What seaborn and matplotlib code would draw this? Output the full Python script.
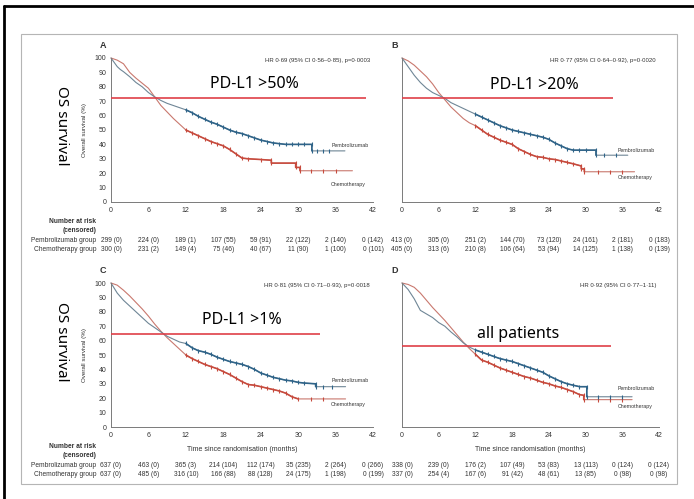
import matplotlib
matplotlib.use("Agg")
import matplotlib.pyplot as plt
import matplotlib.transforms as mtransforms
from matplotlib.lines import Line2D
from matplotlib.patches import Rectangle
import seaborn as sns

# ── Data ───────────────────────────────────────────────────────────
months = [0, 6, 12, 18, 24, 30, 36, 42]
y_ticks = [0, 10, 20, 30, 40, 50, 60, 70, 80, 90, 100]

# A: PD-L1 >50%  (repeated times = vertical KM drops)
a_pem_t = [0, 0.5, 1, 1.5, 2, 3, 4, 5, 6, 7, 8, 9, 10, 11, 12, 13, 14, 15, 16, 17, 18, 19, 20,
           21, 22, 23, 24, 25, 26, 27, 28, 29, 30, 31, 32.2, 32.2, 33, 34, 35, 37.5]
a_pem_s = [100, 97, 94, 92, 90.5, 87, 83, 80, 76, 73, 70.5, 68.5, 67, 65.5, 64, 62, 59.5, 57.5,
           55.5, 54, 52, 50, 48.5, 47.5, 46, 44.5, 43, 42, 41, 40.5, 40, 40, 40, 40, 40, 35.5,
           35.5, 35.5, 35.5, 35.5]
a_chemo_t = [0, 1, 2, 3, 4, 5, 6, 7, 8, 9, 10, 11, 12, 13, 14, 15, 16, 17, 18, 19, 20, 21, 22,
             24, 25.7, 25.7, 29.6, 29.6, 30.3, 30.3, 32, 34, 36, 38.7]
a_chemo_s = [100, 98.5, 96, 90, 86, 82.5, 79, 73, 67, 62.5, 58, 54, 50, 48, 46, 44, 42, 40.5,
             39, 36.5, 33.5, 30.5, 30, 29.5, 29, 27, 27, 24, 24, 21.7, 21.7, 21.7, 21.7, 21.7]
a_pem_risk = ["299 (0)", "224 (0)", "189 (1)", "107 (55)", "59 (91)", "22 (122)", "2 (140)", "0 (142)"]
a_chemo_risk = ["300 (0)", "231 (2)", "149 (4)", "75 (46)", "40 (67)", "11 (90)", "1 (100)", "0 (101)"]

# B: PD-L1 >20%
b_pem_t = [0, 1, 2, 3, 4, 5, 6, 7, 8, 9, 10, 11, 12, 13, 14, 15, 16, 17, 18, 19, 20, 21, 22,
           23, 24, 25, 26, 27, 28, 29, 30, 31.7, 31.7, 33, 35, 36.9]
b_pem_s = [100, 94, 88, 83, 79, 76, 74, 72, 69, 67, 65, 63, 61, 59, 57, 55, 53, 51.5, 50, 49,
           48, 47, 46, 45, 43.5, 41, 39, 37, 36, 36, 36, 36, 32.5, 32.5, 32.5, 32.5]
b_chemo_t = [0, 1, 2, 3, 4, 5, 6, 7, 8, 9, 10, 11, 12, 13, 14, 15, 16, 17, 18, 19, 20, 21, 22,
             23, 24, 25, 26, 27, 28, 29.3, 29.3, 29.8, 29.8, 32, 34, 36, 38]
b_chemo_s = [100, 98, 95, 91, 87, 82, 76, 71, 66, 62, 58, 55, 53, 50, 47, 45, 43, 41.5, 40,
             37, 35, 33, 31.5, 31, 30, 29.5, 28.5, 27.5, 26.5, 25, 23, 23, 21, 21, 21, 21, 21]
b_pem_risk = ["413 (0)", "305 (0)", "251 (2)", "144 (70)", "73 (120)", "24 (161)", "2 (181)", "0 (183)"]
b_chemo_risk = ["405 (0)", "313 (6)", "210 (8)", "106 (64)", "53 (94)", "14 (125)", "1 (138)", "0 (139)"]

# C: PD-L1 >1%
c_pem_t = [0, 1, 2, 3, 4, 5, 6, 7, 8, 9, 10, 11, 12, 13, 14, 15, 16, 17, 18, 19, 20, 21, 22,
           23, 24, 25, 26, 27, 28, 29, 30, 31, 32.8, 32.8, 34, 35.5, 37.6]
c_pem_s = [100, 93, 88, 84, 80, 76, 72, 69, 66, 63, 61, 59, 58, 55, 53, 52, 50.5, 48.5, 47,
           45.5, 44.5, 43.5, 42, 40, 37.5, 36, 34.5, 33.5, 32.5, 32, 31, 30.5, 30, 28, 28, 28, 28]
c_chemo_t = [0, 1, 2, 3, 4, 5, 6, 7, 8, 9, 10, 11, 12, 13, 14, 15, 16, 17, 18, 19, 20, 21, 22,
             23, 24, 25, 26, 27, 28, 29, 30, 32, 34, 37.6]
c_chemo_s = [100, 98.5, 95, 91, 86.5, 82, 77, 71.5, 66.5, 62, 58, 54, 50, 47.5, 45.5, 43.5,
             42, 40.5, 38.5, 36.5, 34, 31.5, 29.5, 29, 28, 27, 26, 25, 23.5, 21, 19.5, 19.5,
             19.5, 19.5]
c_pem_risk = ["637 (0)", "463 (0)", "365 (3)", "214 (104)", "112 (174)", "35 (235)", "2 (264)", "0 (266)"]
c_chemo_risk = ["637 (0)", "485 (6)", "316 (10)", "166 (88)", "88 (128)", "24 (175)", "1 (198)", "0 (199)"]

# D: all patients
d_pem_t = [0, 1, 2, 3, 4, 5, 6, 7, 8, 9, 10, 11, 12, 13, 14, 15, 16, 17, 18, 19, 20, 21, 22,
           23, 24, 25, 26, 27, 28, 29, 30.2, 30.2, 32, 34, 36, 37.6]
d_pem_s = [100, 95.5, 89, 81, 78.5, 76, 72.5, 70, 66, 62.5, 58.5, 55.5, 53.5, 52, 50.5, 49,
           47.5, 46.5, 45.5, 44, 42.5, 41, 39.5, 38, 35.5, 33.5, 31.5, 30, 29, 28, 28, 21, 21,
           21, 21, 21]
d_chemo_t = [0, 1, 2, 3, 4, 5, 6, 7, 8, 9, 10, 11, 12, 13, 14, 15, 16, 17, 18, 19, 20, 21, 22,
             23, 24, 25, 26, 27, 28, 29, 29.7, 29.7, 32, 34, 36, 37.6]
d_chemo_s = [100, 99, 97, 93, 88, 83, 78.5, 74, 69, 64, 59, 54.5, 50.5, 46.5, 45, 43, 41,
             39.5, 38, 36.5, 35, 34, 32.5, 31, 30, 28.5, 27.5, 26, 24.5, 22.5, 22, 19, 19, 19,
             19, 19]
d_pem_risk = ["338 (0)", "239 (0)", "176 (2)", "107 (49)", "53 (83)", "13 (113)", "0 (124)", "0 (124)"]
d_chemo_risk = ["337 (0)", "254 (4)", "167 (6)", "91 (42)", "48 (61)", "13 (85)", "0 (98)", "0 (98)"]

panel_letters = ["A", "B", "C", "D"]
subgroup_labels = ["PD-L1 >50%", "PD-L1 >20%", "PD-L1 >1%", "all patients"]
hr_texts = ["HR 0·69 (95% CI 0·56–0·85), p=0·0003",
            "HR 0·77 (95% CI 0·64–0·92), p=0·0020",
            "HR 0·81 (95% CI 0·71–0·93), p=0·0018",
            "HR 0·92 (95% CI 0·77–1·11)"]
ref_levels = [72.3, 72.3, 64.6, 56]
ref_ends = [40.8, 34.5, 33.5, 34.2]

# ── Style ──────────────────────────────────────────────────────────
sns.set_style("white")
plt.rcParams["font.family"] = ["Liberation Sans", "DejaVu Sans"]

PEM_LINE, PEM_DENSE = "#6f8696", "#2f6489"
CHEMO_LINE, CHEMO_DENSE = "#c9786e", "#c74a3d"
REF_RED = "#df3f48"
AXIS_GREY = "#7a7a7a"
TEXT_DARK = "#333333"
CENSOR_FROM = 11.5   # dense censoring ticks start around month 12

fig = plt.figure(figsize=(6.94, 4.99), dpi=100)

# outer black frame (top / left visible) and grey slide box
fig.add_artist(Line2D([4 / 694, 1], [1 - 6 / 499] * 2, color="black", lw=2))
fig.add_artist(Line2D([4 / 694] * 2, [0, 1 - 6 / 499], color="black", lw=2))
fig.add_artist(Rectangle((21 / 694, 1 - 484 / 499), 656 / 694, 450 / 499,
                         transform=fig.transFigure, fill=False, ec="#b5b5b5", lw=0.8))

panels = [
    (a_pem_t, a_pem_s, a_chemo_t, a_chemo_s, a_pem_risk, a_chemo_risk),
    (b_pem_t, b_pem_s, b_chemo_t, b_chemo_s, b_pem_risk, b_chemo_risk),
    (c_pem_t, c_pem_s, c_chemo_t, c_chemo_s, c_pem_risk, c_chemo_risk),
    (d_pem_t, d_pem_s, d_chemo_t, d_chemo_s, d_pem_risk, d_chemo_risk),
]
label_pos = [(23, 82), (21.7, 81.5), (21, 74.3), (19, 64.5)]
pem_lab_y = [39.5, 36, 32.5, 26.5]
chemo_lab_y = [12, 17.3, 15.3, 14]

W, H = 694, 499
ax_boxes = [(111, 58, 262, 144), (402, 58, 257, 144), (111, 283, 262, 144), (402, 283, 257, 144)]

for i, (pt, ps, ct, cs, prisk, crisk) in enumerate(panels):
    x0, y0, w, h = ax_boxes[i]
    ax = fig.add_axes([x0 / W, 1 - (y0 + h) / H, w / W, h / H])
    ax.set_facecolor("none")

    for t, s, lc, dc in [(ct, cs, CHEMO_LINE, CHEMO_DENSE), (pt, ps, PEM_LINE, PEM_DENSE)]:
        sns.lineplot(x=t, y=s, ax=ax, estimator=None, sort=False, color=lc, lw=0.8,
                     clip_on=False)
        # heavily censored stretch: darker trace with tick marks
        last_plateau = max(k for k in range(len(s)) if s[k] != s[-1]) + 1
        td = [v for k, v in enumerate(t) if v >= CENSOR_FROM and k <= last_plateau]
        sd = [s[k] for k, v in enumerate(t) if v >= CENSOR_FROM and k <= last_plateau]
        sns.lineplot(x=td, y=sd, ax=ax, estimator=None, sort=False, color=dc, lw=1.15,
                     marker="|", markersize=2.6, markeredgewidth=0.8, markeredgecolor=dc)
        tt = [v for v in t if v > t[last_plateau]]
        st = [s[-1]] * len(tt)
        sns.lineplot(x=tt[:-1], y=st[:-1], ax=ax, estimator=None, sort=False, color=lc, lw=0,
                     marker="|", markersize=2.6, markeredgewidth=0.8, markeredgecolor=dc)

    ax.hlines(ref_levels[i], 0, ref_ends[i], color=REF_RED, lw=1.2, zorder=5)

    ax.set_xlim(0, 42)
    ax.set_ylim(0, 100)
    ax.set_xticks(months)
    ax.set_yticks(y_ticks)
    sns.despine(ax=ax)
    for sp in ["left", "bottom"]:
        ax.spines[sp].set_color(AXIS_GREY)
        ax.spines[sp].set_linewidth(0.7)
    ax.tick_params(axis="x", direction="inout", length=4, width=0.6, color=AXIS_GREY,
                   labelsize=5, labelcolor=TEXT_DARK, pad=1.5)
    ax.tick_params(axis="y", direction="out", length=2.5, width=0.6, color=AXIS_GREY,
                   labelsize=5, labelcolor=TEXT_DARK, pad=1)
    if i in (1, 3):
        ax.set_yticklabels([])
    else:
        ax.set_ylabel("Overall survival (%)", fontsize=4.5, color=TEXT_DARK)
        ax.yaxis.set_label_coords(-0.092, 0.5)

    ax.text(-0.03, 1.09, panel_letters[i], transform=ax.transAxes, fontsize=6.5,
            fontweight="bold", color=TEXT_DARK, ha="center", va="center")
    ax.text(41.5, 98.5, hr_texts[i], fontsize=4.3, color=TEXT_DARK, ha="right", va="center")
    ax.text(label_pos[i][0], label_pos[i][1], subgroup_labels[i], fontsize=11.5,
            family=["Noto Sans", "DejaVu Sans"], color="black", ha="center", va="center")
    ax.text(35.3, pem_lab_y[i], "Pembrolizumab", fontsize=3.8, color=TEXT_DARK, va="center")
    ax.text(35.3, chemo_lab_y[i], "Chemotherapy", fontsize=3.8, color=TEXT_DARK, va="center")

    if i >= 2:
        ax.text(0.5, -0.153, "Time since randomisation (months)", transform=ax.transAxes,
                fontsize=5, color=TEXT_DARK, ha="center", va="center")

    # number-at-risk table
    tr = mtransforms.blended_transform_factory(ax.transData, ax.transAxes)
    for m, pv, cv in zip(months, prisk, crisk):
        ax.text(m, -0.264, pv, transform=tr, fontsize=4.8, color=TEXT_DARK, ha="center", va="center")
        ax.text(m, -0.333, cv, transform=tr, fontsize=4.8, color=TEXT_DARK, ha="center", va="center")
    if i in (0, 2):
        ax.text(-2.4, -0.134, "Number at risk", transform=tr, fontsize=4.8, fontweight="bold",
                color=TEXT_DARK, ha="right", va="center")
        ax.text(-2.4, -0.2, "(censored)", transform=tr, fontsize=4.8, fontweight="bold",
                color=TEXT_DARK, ha="right", va="center")
        ax.text(-2.4, -0.264, "Pembrolizumab group", transform=tr, fontsize=4.8,
                color=TEXT_DARK, ha="right", va="center")
        ax.text(-2.4, -0.333, "Chemotherapy group", transform=tr, fontsize=4.8,
                color=TEXT_DARK, ha="right", va="center")

# side captions
for yy in [126, 342]:
    fig.text(61 / W, 1 - yy / H, "OS survival", rotation=-90, fontsize=11,
             family=["Noto Sans", "DejaVu Sans"], ha="center", va="center", color="black")

fig.savefig("out.png", dpi=100, facecolor="white")
